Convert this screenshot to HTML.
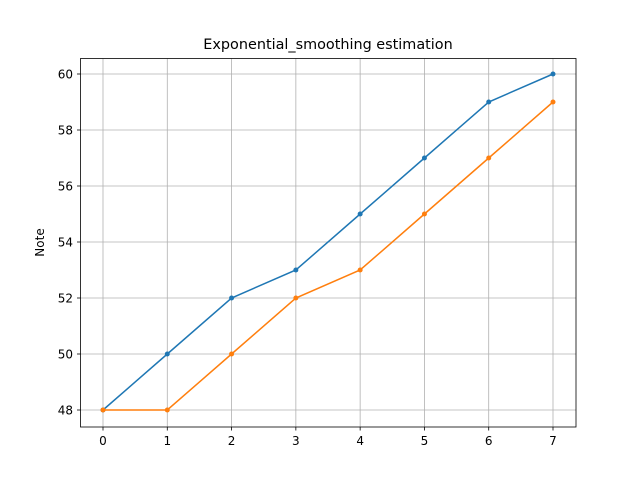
<!DOCTYPE html>
<html><head><meta charset="utf-8"><style>
html,body{margin:0;padding:0;background:#fff;}
svg{display:block;font-family:"DejaVu Sans","Liberation Sans",sans-serif;}
</style></head><body>
<svg id="chart" width="640" height="480">
<text x="328" y="49" text-anchor="middle" font-size="14.4">Exponential_smoothing estimation</text>
<text transform="translate(44,242.5) rotate(-90)" text-anchor="middle" font-size="12">Note</text>
<g id="grid"></g><g id="ticks"></g><g id="series"></g>
<rect x="80.5" y="58.5" width="495.5" height="368.5" fill="none" stroke="#000" stroke-width="0.8"/>
</svg>
<script>
const xCategories = [0,1,2,3,4,5,6,7];
const seriesBlue = [48,50,52,53,55,57,59,60];
const seriesOrange = [48,48,50,52,53,55,57,59];
const yTicks = [48,50,52,54,56,58,60];
const NS = "http://www.w3.org/2000/svg";
function xs(v){ return 103 + (v-0)*(553-103)/7; }
function ys(v){ return 410 - (v-48)*(410-74)/12; }
function mk(tag, attrs, parent){ const e=document.createElementNS(NS,tag); for(const k in attrs) e.setAttribute(k,attrs[k]); parent.appendChild(e); return e; }
const grid=document.getElementById('grid'), ticks=document.getElementById('ticks'), ser=document.getElementById('series');
xCategories.forEach(c=>{
  const x=xs(c);
  const g=mk('line',{x1:x,x2:x,y1:58.5,y2:427,stroke:'#b0b0b0','stroke-width':0.8},grid);
  
  
  mk('line',{x1:x,x2:x,y1:427,y2:430.5,stroke:'#000','stroke-width':0.8},ticks);
  const t=mk('text',{x:x,y:445,'text-anchor':'middle','font-size':12},ticks);
  t.textContent=c;
  
  
});
yTicks.forEach(v=>{
  const y=ys(v);
  const g=mk('line',{x1:80.5,x2:576,y1:y,y2:y,stroke:'#b0b0b0','stroke-width':0.8},grid);
  
  
  mk('line',{x1:77,x2:80.5,y1:y,y2:y,stroke:'#000','stroke-width':0.8},ticks);
  const t=mk('text',{x:73,y:y+4.5,'text-anchor':'end','font-size':12},ticks);
  t.textContent=v;
  
  
});
function drawSeries(vals,color,name){
  const p=mk('polyline',{points:vals.map((v,i)=>xs(xCategories[i])+','+ys(v)).join(' '),fill:'none',stroke:color,'stroke-width':1.5},ser);
  
  
  vals.forEach((v,i)=>{
    const c=mk('circle',{cx:xs(xCategories[i]),cy:ys(v),r:2.5,fill:color},ser);
    
    
  });
}
drawSeries(seriesBlue,'#1f77b4','blue-series');
drawSeries(seriesOrange,'#ff7f0e','orange-series');
</script>
</body></html>
